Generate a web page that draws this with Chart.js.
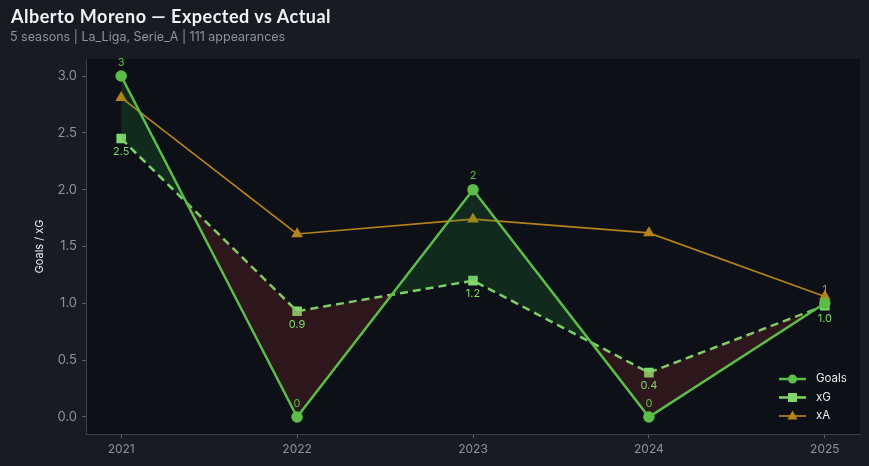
<!DOCTYPE html>
<html>
<head>
<meta charset="utf-8">
<script src="https://cdn.jsdelivr.net/npm/chart.js@4"></script>
<style>
  html, body { margin: 0; padding: 0; background: #181b22; }
  #wrap { position: relative; width: 869px; height: 466px; }
  #title { position: absolute; left: 11px; top: 5px; font: bold 18px Lato, sans-serif; letter-spacing: 0.5px; color: #f0f3f6; }
  #sub { position: absolute; left: 10px; top: 29px; font: 12.5px Inter, sans-serif; color: #8b949e; }
  canvas { position: absolute; left: 0; top: 0; }
</style>
</head>
<body>
<div id="wrap">
  <canvas id="chart" width="869" height="466"></canvas>
  <div id="title">Alberto Moreno — Expected vs Actual</div>
  <div id="sub">5 seasons | La_Liga, Serie_A | 111 appearances</div>
</div>
<script>
// --- chart data ---
const seasons = [2021, 2022, 2023, 2024, 2025];
const goals = [3, 0, 2, 0, 1];
const xg = [2.45, 0.93, 1.2, 0.39, 0.98];
const xa = [2.81, 1.61, 1.74, 1.62, 1.06];
const yTicks = [0, 0.5, 1, 1.5, 2, 2.5, 3];

const GOALS_COL = '#5cbd48';
const XG_COL = '#7fd86c';
const XA_COL = '#b5831a';

function pts(vals) {
    return seasons.map((s, i) => ({ x: s, y: vals[i] }));
}

// dark plot background
const plotBg = {
    id: 'plotBg',
    beforeDraw(chart) {
        const a = chart.chartArea, ctx = chart.ctx;
        ctx.save();
        ctx.fillStyle = '#0d1117';
        ctx.fillRect(a.left, a.top, a.right - a.left, a.bottom - a.top);
        ctx.restore();
    }
};

// value labels above goals and below xG
const valueLabels = {
    id: 'valueLabels',
    afterDatasetsDraw(chart) {
        const ctx = chart.ctx;
        ctx.save();
        ctx.font = '11px Inter, sans-serif';
        ctx.textAlign = 'center';
        chart.getDatasetMeta(0).data.forEach((p, i) => {
            ctx.fillStyle = GOALS_COL;
            ctx.textBaseline = 'bottom';
            ctx.fillText(String(goals[i]), p.x, p.y - 8);
        });
        chart.getDatasetMeta(1).data.forEach((p, i) => {
            ctx.fillStyle = XG_COL;
            ctx.textBaseline = 'top';
            ctx.fillText(xg[i].toFixed(1), p.x, p.y + 8);
        });
        ctx.restore();
    }
};

// matplotlib style legend in lower right
const lineLegend = {
    id: 'lineLegend',
    afterDraw(chart) {
        const ctx = chart.ctx;
        const a = chart.chartArea;
        const x0 = a.right - 81, y0 = a.bottom - 55;
        ctx.save();
        chart.data.datasets.forEach((ds, i) => {
            const y = y0 + i * 18.5;
            ctx.strokeStyle = ds.borderColor;
            ctx.lineWidth = ds.borderWidth;
            ctx.setLineDash([]);
            ctx.beginPath();
            ctx.moveTo(x0, y);
            ctx.lineTo(x0 + 27, y);
            ctx.stroke();
            ctx.fillStyle = ds.pointBackgroundColor;
            const cx = x0 + 13.5;
            if (ds.pointStyle === 'circle') {
                ctx.beginPath(); ctx.arc(cx, y, 4.5, 0, Math.PI * 2); ctx.fill();
            } else if (ds.pointStyle === 'rect') {
                ctx.fillRect(cx - 4.5, y - 4.5, 9, 9);
            } else {
                ctx.beginPath();
                ctx.moveTo(cx, y - 5.5); ctx.lineTo(cx + 5, y + 3.5); ctx.lineTo(cx - 5, y + 3.5);
                ctx.closePath(); ctx.fill();
            }
            ctx.fillStyle = '#e6edf3';
            ctx.font = '11.5px Inter, sans-serif';
            ctx.textBaseline = 'middle';
            ctx.fillText(ds.label, x0 + 37, y);
        });
        ctx.restore();
    }
};

new Chart(document.getElementById('chart'), {
    type: 'line',
    data: {
        datasets: [{
            label: 'Goals',
            data: pts(goals),
            borderColor: GOALS_COL,
            backgroundColor: GOALS_COL,
            pointBackgroundColor: GOALS_COL,
            pointBorderColor: GOALS_COL,
            borderWidth: 2.5,
            pointStyle: 'circle',
            pointRadius: 4.5,
            tension: 0,
            fill: { target: 1, above: 'rgba(46, 160, 67, 0.17)', below: 'rgba(180, 50, 50, 0.2)' },
            order: 1
        }, {
            label: 'xG',
            data: pts(xg),
            borderColor: XG_COL,
            backgroundColor: XG_COL,
            pointBackgroundColor: XG_COL,
            pointBorderColor: XG_COL,
            borderWidth: 2.5,
            borderDash: [8, 5],
            pointStyle: 'rect',
            pointRadius: 5,
            tension: 0,
            fill: false,
            order: 2
        }, {
            label: 'xA',
            data: pts(xa),
            borderColor: XA_COL,
            backgroundColor: XA_COL,
            pointBackgroundColor: XA_COL,
            pointBorderColor: XA_COL,
            borderWidth: 1.7,
            pointStyle: 'triangle',
            pointRadius: 5,
            tension: 0,
            fill: false,
            order: 3
        }]
    },
    options: {
        responsive: false,
        animation: false,
        layout: { padding: { top: 59, right: 9, left: 33, bottom: 0 } },
        plugins: {
            legend: { display: false },
            tooltip: { enabled: false }
        },
        scales: {
            x: {
                type: 'linear',
                min: 2020.8,
                max: 2025.2,
                afterBuildTicks(scale) { scale.ticks = seasons.map(v => ({ value: v })); },
                afterFit(scale) { scale.height = 32; },
                ticks: { color: '#8b949e', font: { size: 12, family: 'Inter' }, padding: 4, callback: v => String(v) },
                grid: { drawOnChartArea: false, tickLength: 4, color: '#5a6068' },
                border: { color: '#3a3f47' }
            },
            y: {
                min: -0.15,
                max: 3.15,
                afterBuildTicks(scale) { scale.ticks = yTicks.map(v => ({ value: v })); },
                afterFit(scale) { scale.width = 53; },
                ticks: { color: '#8b949e', font: { size: 13, family: 'Inter' }, padding: 5, callback: v => v.toFixed(1) },
                grid: { drawOnChartArea: false, tickLength: 4, color: '#5a6068' },
                border: { color: '#3a3f47' },
                title: { display: true, text: 'Goals / xG', color: '#e6edf3', font: { size: 11, family: 'Inter' }, padding: { top: 0, bottom: 4 } }
            }
        }
    },
    plugins: [plotBg, valueLabels, lineLegend]
});
</script>
</body>
</html>
